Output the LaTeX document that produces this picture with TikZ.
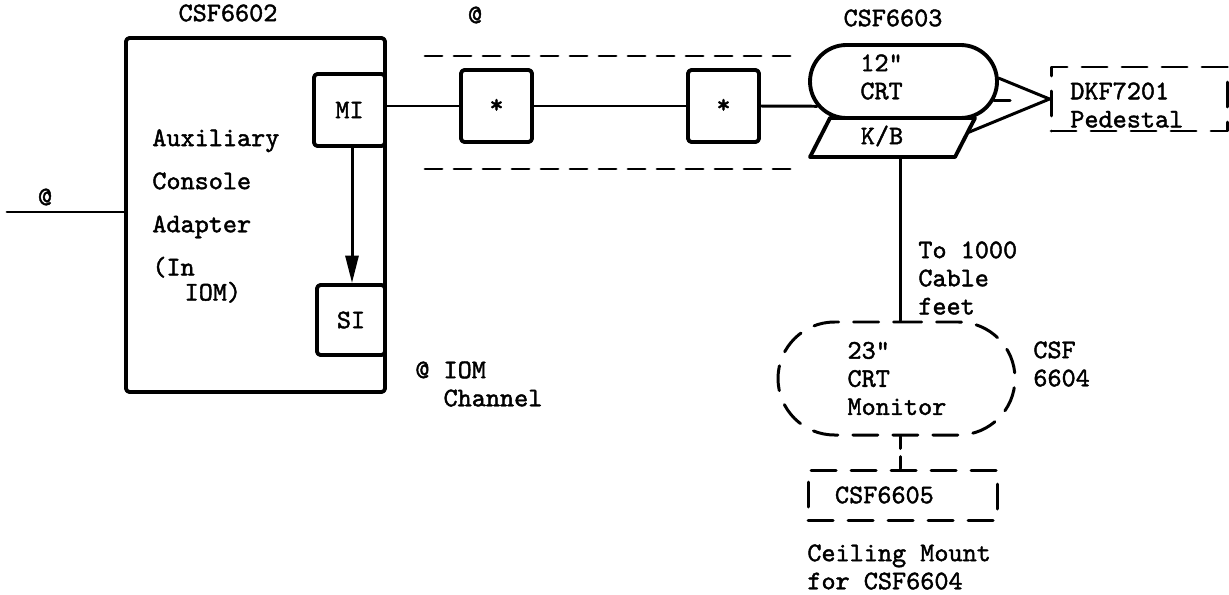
\documentclass[tikz,border=0pt]{standalone}
\usepackage{fontspec}
\newfontfamily\typewr{lmmono10-regular.otf}[FakeBold=1.6]
\usetikzlibrary{arrows.meta,calc,positioning,shapes.misc}
\tikzset{
  every picture/.append style={line cap=round,line join=round},
  blk box/.style={draw,line width=2.2pt,rounded corners=2pt,inner sep=0pt},
  blk tube/.style={draw,rounded rectangle,line width=2.2pt,inner sep=0pt},
  blk cable/.style={line width=1.7pt},
  blk dashed/.style={line width=1.7pt,dash pattern=on 3.4mm off 2.4mm},
  blk dbox/.style={draw,line width=1.7pt,dash pattern=on 5mm off 3mm,inner sep=0pt},
  blk arrow/.style={line width=1.7pt,-{Triangle[length=5.5mm,width=2.6mm]}},
  blk note/.style={align=left,inner sep=0pt}
}
\begin{document}
\begin{tikzpicture}[x=0.2mm,y=-0.2mm,font=\typewr\fontsize{15.3pt}{16pt}\selectfont]
  \useasboundingbox (0,0) rectangle (1229,594);
  % adapter CSF6602
  \node[blk box,minimum width=51.8mm,minimum height=70.8mm] (aca) at (255.5,215) {};
  \node[blk box,minimum width=14.2mm,minimum height=14.4mm] (mi) at (349.5,110) {MI};
  \node[blk box,minimum width=13.6mm,minimum height=14mm] (si) at (351,320) {SI};
  \node (acalbl) at (228,13) {CSF6602};
  \node[blk note,anchor=west] (acatxt) at (152,216)
    {Auxiliary\\[3mm]Console\\[3mm]Adapter\\[3mm](In\\[-0.6mm]\hspace*{1.2em}IOM)};
  \draw[blk arrow] (mi.south -| 352,0) -- (si.north -| 352,0);
  \coordinate (in) at (7,212);
  \draw[blk cable] (in) -- (in -| aca.west);
  \node (atin) at (45,197) {@};
  \node[blk note,anchor=west] (iomch) at (415,384) {@ IOM\\\hspace*{1.05em}Channel};
  % cable with repeaters
  \node[blk box,minimum width=14.2mm,minimum height=14.4mm] (st1) at (496.5,106) {*};
  \node[blk box,minimum width=14.2mm,minimum height=14.4mm] (st2) at (723.5,106) {*};
  \draw[blk cable] (st1.west) -- (st1.west -| mi.east);
  \draw[blk cable] (st1) -- (st2);
  \coordinate (dtl) at (425,56);
  \coordinate (dtr) at (790,56);
  \coordinate (dbl) at (425,169);
  \coordinate (dbr) at (790,169);
  \draw[blk dashed] (dtl) -- (dtr);
  \draw[blk dashed] (dbl) -- (dbr);
  \node (atcab) at (475,15) {@};
  % terminal CSF6603
  \node[blk tube,minimum width=37.4mm,minimum height=14.6mm] (crt) at (903.5,81.5) {};
  \node[blk note,anchor=west] (crttxt) at (860,77) {12\symbol{34}\\CRT};
  \node (crtlbl) at (893,18) {CSF6603};
  \draw[blk cable] (st2.east) -- (crt.196);
  \coordinate (kbnw) at (830,118);
  \coordinate (kbne) at (975,118);
  \coordinate (kbse) at (955,157);
  \coordinate (kbsw) at (810,157);
  \draw[line width=2.2pt] (kbnw) -- (kbne) -- (kbse) -- (kbsw) -- cycle;
  \node (kb) at (882,136) {K/B};
  \coordinate (stub) at (1010,101);
  \draw[blk cable] (crt.-12.5) -- (crt.-12.5 -| stub);
  % pedestal
  \node[blk dbox,minimum width=35.2mm,minimum height=12.8mm] (ped) at (1139,99) {};
  \node[blk note,anchor=west] (pedtxt) at (1070,105) {DKF7201\\Pedestal};
  \draw[blk cable] (crt.2) -- (ped.west);
  \draw[blk cable] ($(kbne)!0.38!(kbse)$) -- (ped.west);
  % monitor CSF6604
  \node[rounded rectangle,blk dbox,minimum width=47.4mm,minimum height=22.6mm,
        text width=19.6mm,blk note] (mon) at (896.5,378.5) {23\symbol{34}\\CRT\\Monitor};
  \coordinate (kbs) at (900,157);
  \draw[blk cable] (kbs) -- (kbs |- mon.north);
  \node[blk note,anchor=west] (cabtxt) at (918,278) {To 1000\\Cable\\feet};
  \node[blk note,anchor=west] (monlbl) at (1033,364) {CSF\\6604};
  % ceiling mount CSF6605
  \node[blk dbox,minimum width=37.8mm,minimum height=10mm,
        text width=27mm,blk note] (mnt) at (902.5,495) {CSF6605};
  \draw[line width=1.7pt,dash pattern=on 2.4mm off 1.6mm] (mon.south -| kbs) -- (mnt.north -| kbs);
  \node[blk note,anchor=west] (mnttxt) at (807,567) {Ceiling Mount\\for CSF6604};
\end{tikzpicture}
\end{document}
